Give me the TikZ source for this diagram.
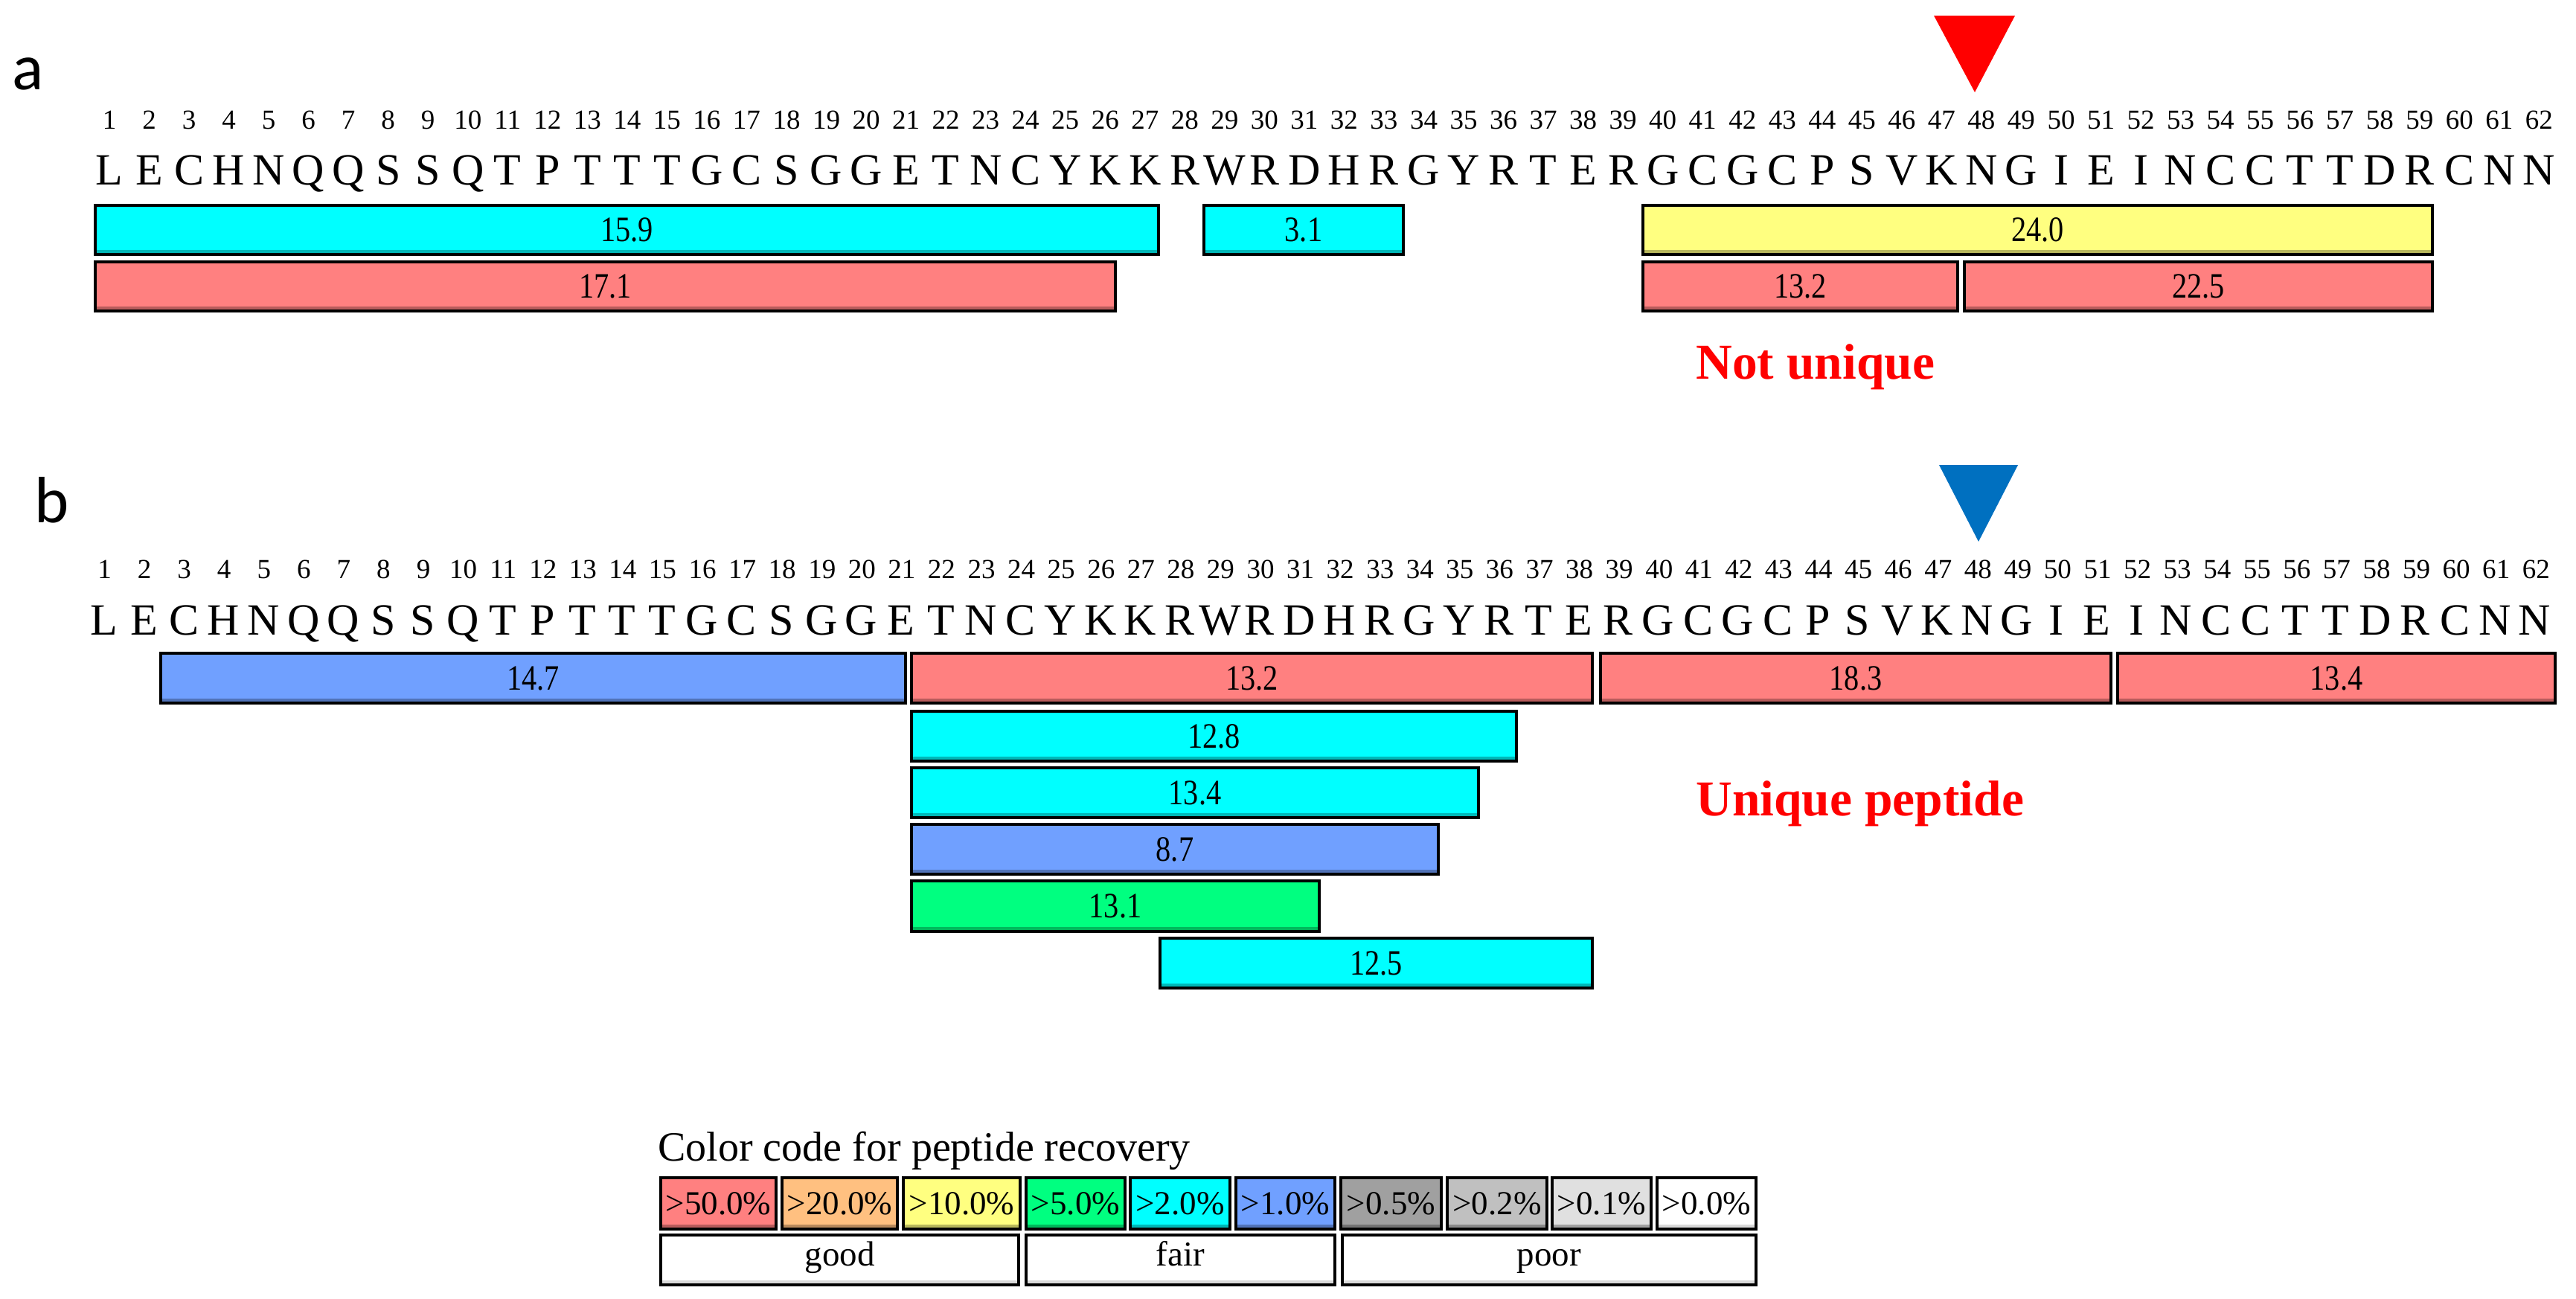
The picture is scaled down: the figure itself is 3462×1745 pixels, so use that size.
\documentclass[tikz,border=0pt]{standalone}
\usepackage{fontspec}
\setmainfont{Liberation Serif}
\newfontfamily\panelfont{Carlito}
\usetikzlibrary{fit}
\definecolor{pred}{RGB}{255,128,128}
\definecolor{porange}{RGB}{255,192,128}
\definecolor{pyellow}{RGB}{255,255,128}
\definecolor{pgreen}{RGB}{0,255,128}
\definecolor{pcyan}{RGB}{0,255,255}
\definecolor{pblue}{RGB}{112,160,255}
\definecolor{pgrayA}{RGB}{160,160,160}
\definecolor{pgrayB}{RGB}{192,192,192}
\definecolor{pgrayC}{RGB}{224,224,224}
\definecolor{tblue}{RGB}{0,112,192}
\newcommand\plab[1]{\scalebox{0.84}[1]{#1}}
\begin{document}
\begin{tikzpicture}[x=0.5pt,y=-0.5pt,
  pep/.style={draw=black, line width=1.6pt, fill=#1, inner sep=0pt,
    path picture={\fill[#1!72!black] (path picture bounding box.south west) rectangle ([yshift=3pt]path picture bounding box.south east);}},
  wbox/.style={draw=black, line width=1.6pt, fill=white, inner sep=0pt,
    path picture={\fill[gray!30] (path picture bounding box.south west) rectangle ([yshift=3pt]path picture bounding box.south east);}},
  boxnum/.style={inner sep=0pt, font=\fontsize{24pt}{24pt}\selectfont},
  swnum/.style={inner sep=0pt, font=\fontsize{22.5pt}{24pt}\selectfont},
  qnum/.style={inner sep=0pt, text height=14pt, text depth=5.8pt, font=\fontsize{23.5pt}{24pt}\selectfont},
  numlbl/.style={anchor=base, inner sep=0pt, font=\fontsize{18.5pt}{20pt}\selectfont},
  seqlbl/.style={anchor=base, inner sep=0pt, font=\fontsize{30pt}{32pt}\selectfont},
  panellbl/.style={anchor=base west, inner sep=0pt, font=\panelfont\fontsize{44pt}{46pt}\selectfont},
  note/.style={anchor=base west, inner sep=0pt, text=red, font=\bfseries\fontsize{33.75pt}{36pt}\selectfont}
]
\useasboundingbox[fill=white] (0,0) rectangle (3462,1745);

% ---------------- panel a ----------------
\node[panellbl] (pa) at (16,120) {a};
\fill[red] (2599,21) -- (2708,21) -- (2654,124) -- cycle;
\foreach \i in {1,...,62} \node[numlbl] (na\i) at ({147+(\i-1)*53.53},173) {\i};
\foreach \l [count=\i] in {L,E,C,H,N,Q,Q,S,S,Q,T,P,T,T,T,G,C,S,G,G,E,T,N,C,Y,K,K,R,W,R,D,H,R,G,Y,R,T,E,R,G,C,G,C,P,S,V,K,N,G,I,E,I,N,C,C,T,T,D,R,C,N,N}
  \node[seqlbl] (sa\i) at ({147+(\i-1)*53.53},248) {\l};

\node[pep=pcyan, fit={(128,276) (1557,342)}, label={[boxnum]center:\plab{15.9}}] (a1) {};
\node[pep=pcyan, fit={(1618,276) (1886,342)}, label={[boxnum]center:\plab{3.1}}] (a2) {};
\node[pep=pyellow, fit={(2208,276) (3269,342)}, label={[boxnum]center:\plab{24.0}}] (a3) {};
\node[pep=pred, fit={(128,352) (1499,418)}, label={[boxnum]center:\plab{17.1}}] (a4) {};
\node[pep=pred, fit={(2208,352) (2631,418)}, label={[boxnum]center:\plab{13.2}}] (a5) {};
\node[pep=pred, fit={(2640,352) (3269,418)}, label={[boxnum]center:\plab{22.5}}] (a6) {};

\node[note] (nu) at (2279,509) {Not unique};

% ---------------- panel b ----------------
\node[panellbl] (pb) at (46,702) {b};
\fill[tblue] (2606,625) -- (2712,625) -- (2659,728) -- cycle;
\foreach \i in {1,...,62} \node[numlbl] (nb\i) at ({140.5+(\i-1)*53.57},777) {\i};
\foreach \l [count=\i] in {L,E,C,H,N,Q,Q,S,S,Q,T,P,T,T,T,G,C,S,G,G,E,T,N,C,Y,K,K,R,W,R,D,H,R,G,Y,R,T,E,R,G,C,G,C,P,S,V,K,N,G,I,E,I,N,C,C,T,T,D,R,C,N,N}
  \node[seqlbl] (sb\i) at ({140+(\i-1)*53.55},853) {\l};

\node[pep=pblue, fit={(216,878) (1217,945)}, label={[boxnum]center:\plab{14.7}}] (b1) {};
\node[pep=pred, fit={(1225,878) (2140,945)}, label={[boxnum]center:\plab{13.2}}] (b2) {};
\node[pep=pred, fit={(2151,878) (2837,945)}, label={[boxnum]center:\plab{18.3}}] (b3) {};
\node[pep=pred, fit={(2846,878) (3434,945)}, label={[boxnum]center:\plab{13.4}}] (b4) {};
\node[pep=pcyan, fit={(1225,956) (2038,1023)}, label={[boxnum]center:\plab{12.8}}] (b5) {};
\node[pep=pcyan, fit={(1225,1032) (1987,1099)}, label={[boxnum]center:\plab{13.4}}] (b6) {};
\node[pep=pblue, fit={(1225,1108) (1933,1175)}, label={[boxnum]center:\plab{8.7}}] (b7) {};
\node[pep=pgreen, fit={(1225,1184) (1773,1252)}, label={[boxnum]center:\plab{13.1}}] (b8) {};
\node[pep=pcyan, fit={(1559,1261) (2140,1328)}, label={[boxnum]center:\plab{12.5}}] (b9) {};

\node[note] (up) at (2279,1096) {Unique peptide};

% ---------------- legend ----------------
\node[anchor=base west, inner sep=0pt, font=\fontsize{28pt}{30pt}\selectfont] (lt) at (884,1560) {Color code for peptide recovery};
\node[pep=pred, fit={(888,1583) (1043,1652)}, label={[swnum]center:>50.0\%}] (c1) {};
\node[pep=porange, fit={(1051,1583) (1206,1652)}, label={[swnum]center:>20.0\%}] (c2) {};
\node[pep=pyellow, fit={(1214,1583) (1371,1652)}, label={[swnum]center:>10.0\%}] (c3) {};
\node[pep=pgreen, fit={(1379,1583) (1512,1652)}, label={[swnum]center:>5.0\%}] (c4) {};
\node[pep=pcyan, fit={(1519,1583) (1653,1652)}, label={[swnum]center:>2.0\%}] (c5) {};
\node[pep=pblue, fit={(1661,1583) (1794,1652)}, label={[swnum]center:>1.0\%}] (c6) {};
\node[pep=pgrayA, fit={(1802,1583) (1937,1652)}, label={[swnum]center:>0.5\%}] (c7) {};
\node[pep=pgrayB, fit={(1945,1583) (2079,1652)}, label={[swnum]center:>0.2\%}] (c8) {};
\node[pep=pgrayC, fit={(2086,1583) (2219,1652)}, label={[swnum]center:>0.1\%}] (c9) {};
\node[wbox, fit={(2227,1583) (2360,1652)}, label={[swnum]center:>0.0\%}] (c10) {};

\node[wbox, fit={(888,1660) (1369,1727)}, label={[qnum]center:good}] (q1) {};
\node[wbox, fit={(1379,1660) (1794,1727)}, label={[qnum]center:fair}] (q2) {};
\node[wbox, fit={(1804,1660) (2360,1727)}, label={[qnum]center:poor}] (q3) {};
\end{tikzpicture}
\end{document}
